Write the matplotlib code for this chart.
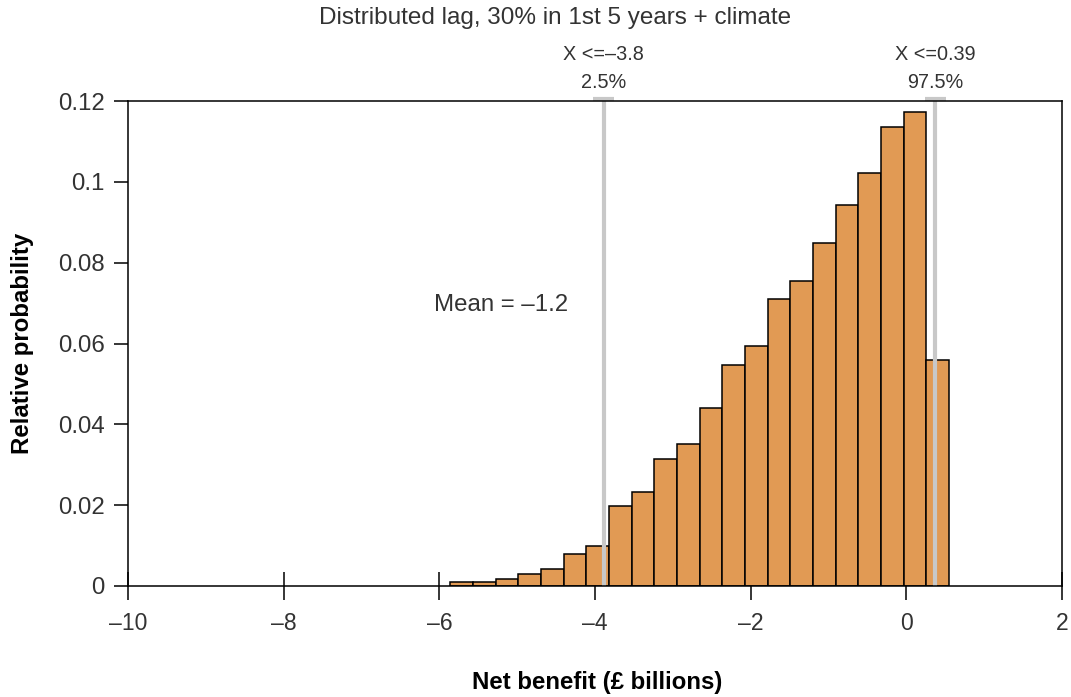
import matplotlib
matplotlib.use("Agg")
import matplotlib.pyplot as plt
import numpy as np
from matplotlib.ticker import FuncFormatter

plt.rcParams["font.family"] = ["Liberation Sans", "DejaVu Sans"]

# histogram of net benefit (relative probability per bin)
bin_lo = -5.86
bin_hi = 0.55
probs = [0.0010, 0.0010, 0.0018, 0.0030, 0.0041, 0.0080, 0.0100, 0.0197,
         0.0233, 0.0315, 0.0351, 0.0440, 0.0547, 0.0593, 0.0709, 0.0754,
         0.0848, 0.0943, 0.1023, 0.1136, 0.1174, 0.0558]

# percentile markers (where they are drawn) and their labels
marker_x = [-3.89, 0.37]
marker_top = ["X <=\u20133.8", "X <=0.39"]
marker_pct = ["2.5%", "97.5%"]

mean_label = "Mean = \u20131.2"
title = "Distributed lag, 30% in 1st 5 years + climate"

BAR = "#E19A54"
GREY = "#C8C8C8"
TXT = "#333333"

edges = np.linspace(bin_lo, bin_hi, len(probs) + 1)
width = edges[1] - edges[0]

fig = plt.figure(figsize=(10.71, 6.97), dpi=100)
ax = fig.add_axes([128 / 1071, 1 - 586 / 697, (1062 - 128) / 1071, (586 - 101) / 697])

ax.bar(edges[:-1], probs, width=width, align="edge", color=BAR,
       edgecolor="black", linewidth=1.1, zorder=2)

ymax = 0.12
for x, t1, t2 in zip(marker_x, marker_top, marker_pct):
    ax.plot([x, x], [0, ymax * 1.004], color=GREY, lw=3, clip_on=False, zorder=3,
            solid_capstyle="butt")
    ax.plot([x - 0.135, x + 0.135], [ymax * 1.004, ymax * 1.004], color=GREY, lw=3,
            clip_on=False, zorder=3, solid_capstyle="butt")
    ax.text(x, 0.1314, t1, ha="center", va="center", fontsize=14.3, color=TXT)
    ax.text(x, 0.1247, t2, ha="center", va="center", fontsize=14.3, color=TXT)

ax.text(-6.07, 0.0695, mean_label, ha="left", va="center", fontsize=17.3, color=TXT)

ax.set_xlim(-10, 2)
ax.set_ylim(0, ymax)
ax.set_xticks(np.arange(-10, 3, 2))
ax.set_yticks([0, 0.02, 0.04, 0.06, 0.08, 0.1, 0.12])
ax.xaxis.set_major_formatter(FuncFormatter(lambda v, p: f"{v:g}".replace("-", "\u2013")))
ax.yaxis.set_major_formatter(FuncFormatter(lambda v, p: f"{v:g}"))
ax.tick_params(axis="x", direction="inout", length=20, width=1.1, labelsize=16.5,
               labelcolor=TXT, pad=9)
ax.tick_params(axis="y", direction="out", length=10, width=1.1, labelsize=17.3,
               labelcolor=TXT, pad=7)
for s in ax.spines.values():
    s.set_linewidth(1.1)
    s.set_zorder(4)

ax.set_ylabel("Relative probability", fontsize=17.3, fontweight="bold", labelpad=17)
fig.text(597 / 1071, 1 - 683 / 697, "Net benefit (\u00a3 billions)", ha="center",
         va="center", fontsize=17.3, fontweight="bold")
fig.text(555 / 1071, 1 - 18 / 697, title, ha="center", va="center", fontsize=17.5,
         color=TXT)

fig.savefig("out.png", dpi=100)
